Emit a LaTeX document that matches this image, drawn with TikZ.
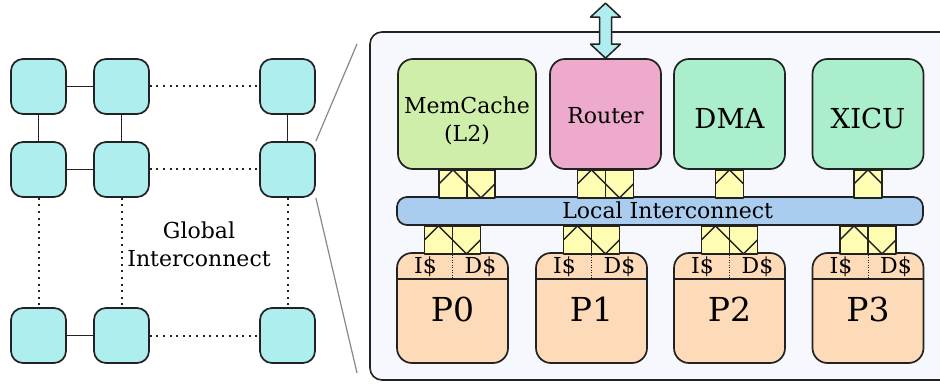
\documentclass[tikz,border=0pt]{standalone}
\usepackage{fontspec}
\setmainfont{DejaVu Serif}
\usetikzlibrary{calc}
\definecolor{gridc}{HTML}{AEEEEE}
\definecolor{panelc}{HTML}{F7F8FE}
\definecolor{memc}{HTML}{CFEEAA}
\definecolor{routc}{HTML}{EEAACC}
\definecolor{dmac}{HTML}{AAEECC}
\definecolor{barc}{HTML}{AACCEE}
\definecolor{procc}{HTML}{FEDBB8}
\definecolor{linkc}{HTML}{FFFDB2}
\definecolor{bordc}{HTML}{222222}
\definecolor{zoomc}{HTML}{888888}
\tikzset{
  fbase/.style={font=\fontsize{22}{28}\selectfont},
  fbig/.style={font=\fontsize{27.5}{32}\selectfont},
  fhuge/.style={font=\fontsize{33}{38}\selectfont},
  gnode/.style={draw=bordc, line width=1.7pt, fill=gridc, rounded corners=12pt,
    inner sep=0pt, minimum width=55pt, minimum height=55pt},
  unit/.style={draw=bordc, line width=1.7pt, rounded corners=15pt, inner sep=0pt,
    minimum width=111pt, minimum height=110pt},
  txt/.style={inner sep=0pt, anchor=base},
  gsolid/.style={draw=bordc, line width=1.8pt},
  gdot/.style={draw=bordc, line width=2pt, dash pattern=on 2pt off 4.6pt},
  linkbox/.style={draw=bordc, line width=1.5pt, fill=linkc},
  zline/.style={draw=zoomc, line width=1.2pt},
  dlink/.pic={
    \path[linkbox] (-28,0) rectangle (0,28);
    \path[linkbox] (0,0) rectangle (28,28);
    \draw[bordc, line width=1.5pt] (-28,14) -- (-14,0) -- (14,28) -- (28,14);
  },
  slink/.pic={
    \path[linkbox] (-14,0) rectangle (14,28);
    \draw[bordc, line width=1.5pt] (-14,14) -- (0,0) -- (14,14);
  }
}
\begin{document}
\begin{tikzpicture}[x=1pt,y=-1pt,line join=round]
\useasboundingbox (0,0) rectangle (940,390);
\clip (0,0) rectangle (940,390);
\fill[white] (0,0) rectangle (940,390);

% ---------- global mesh ----------
\node[gnode] (g11) at (38.5,86.5) {};
\node[gnode] (g21) at (121.5,86.5) {};
\node[gnode] (g31) at (287.5,86.5) {};
\node[gnode] (g12) at (38.5,169.5) {};
\node[gnode] (g22) at (121.5,169.5) {};
\node[gnode] (g32) at (287.5,169.5) {};
\node[gnode] (g13) at (38.5,335.5) {};
\node[gnode] (g23) at (121.5,335.5) {};
\node[gnode] (g33) at (287.5,335.5) {};
\draw[gsolid] (g11) -- (g21);
\draw[gsolid] (g11) -- (g12);
\draw[gsolid] (g21) -- (g22);
\draw[gsolid] (g12) -- (g22);
\draw[gsolid] (g31) -- (g32);
\draw[gsolid] (g13) -- (g23);
\draw[gdot] (g21) -- (g31);
\draw[gdot] (g22) -- (g32);
\draw[gdot] (g23) -- (g33);
\draw[gdot] (g12) -- (g13);
\draw[gdot] (g22) -- (g23);
\draw[gdot] (g32) -- (g33);
\node[txt, fbase, align=center] (glbl) at (199,266) {Global\\Interconnect};

% ---------- zoom lines ----------
\coordinate (zt) at (357,44);
\coordinate (zb) at (357,373);
\draw[zline] (g32.north east) -- (zt);
\draw[zline] (g32.south east) -- (zb);

% ---------- tile panel ----------
\node[draw=bordc, line width=1.6pt, fill=panelc, rounded corners=12pt, inner sep=0pt,
  minimum width=620pt, minimum height=348pt] (panel) at (680,206) {};

\node[unit, fill=memc, minimum width=138pt] (mc) at (467,114) {};
\node[unit, fill=routc] (rt) at (605.5,114) {};
\node[unit, fill=dmac] (dma) at (729.5,114) {};
\node[unit, fill=dmac] (xicu) at (868,114) {};
\node[draw=bordc, line width=1.7pt, fill=barc, rounded corners=10pt, inner sep=0pt,
  minimum width=526pt, minimum height=28pt] (bar) at (660,211) {};

\node[txt, fbase, align=center] (mclbl) at (467,141.7) {MemCache\\(L2)};
\node[txt, fbase] (rtlbl) at (605.5,123.3) {Router};
\node[txt, fbig] (dmalbl) at (729.5,128.3) {DMA};
\node[txt, fbig] (xicului) at (868,128.3) {XICU};
\node[txt, fbase] (barlbl) at (667.7,218.3) {Local Interconnect};

% processors
\foreach \n/\x in {0/452.5,1/591.5,2/729.5,3/868}{
  \node[unit, fill=procc] (p\n) at (\x,308) {};
  \draw[bordc, line width=1.7pt] ($(p\n.north west)+(0,27)$) -- ($(p\n.north east)+(0,27)$);
  \draw[bordc, line width=1pt, dash pattern=on 1pt off 1.5pt] (p\n.north) -- ($(p\n.north)+(0,27)$);
  \node[txt, fbase] (ic\n) at ($(p\n.north)+(-27,21)$) {I\$};
  \node[txt, fbase] (dc\n) at ($(p\n.north)+(28,21)$) {D\$};
  \node[txt, fhuge] (pl\n) at ($(p\n.north)+(0,69)$) {P\n};
  \pic at (bar.south -| p\n.north) {dlink};
}

% links to local interconnect
\pic at (mc.south) {dlink};
\pic at (rt.south) {dlink};
\pic at (dma.south) {slink};
\pic at (xicu.south) {slink};

% external double arrow
\draw[draw=bordc, line width=1.5pt, fill=gridc] (rt.north) -- ++(-15,-14) -- ++(9,0) -- ++(0,-27)
  -- ++(-9,0) -- ++(15,-14) -- ++(15,14) -- ++(-9,0) -- ++(0,27) -- ++(9,0) -- cycle;
\end{tikzpicture}
\end{document}
